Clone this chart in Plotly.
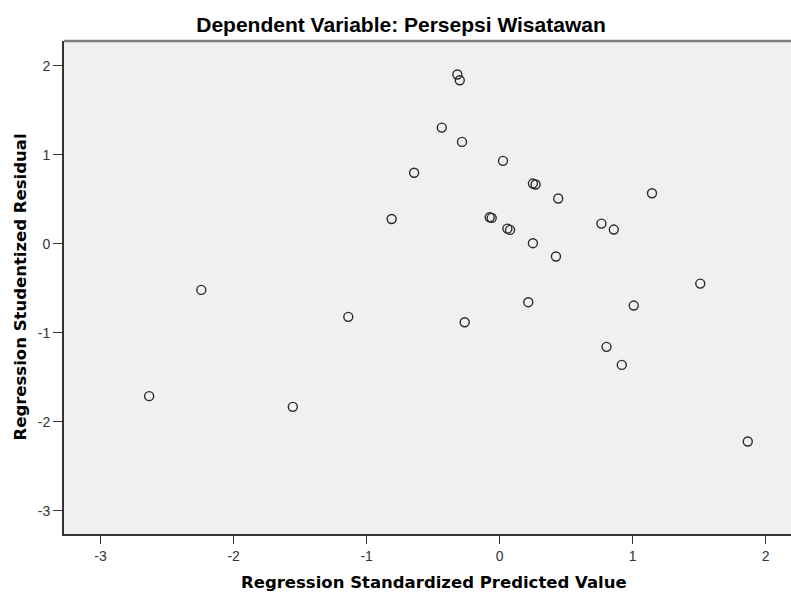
import plotly.graph_objects as go

predicted = [-2.635, -2.243, -1.555, -1.138, -0.812, -0.643, -0.435, -0.318, -0.300, -0.283,
             -0.263, -0.075, -0.060, 0.025, 0.058, 0.078, 0.215, 0.250, 0.270, 0.250,
             0.423, 0.440, 0.765, 0.803, 0.858, 0.918, 1.008, 1.145, 1.508, 1.865]
residual = [-1.711, -0.517, -1.831, -0.820, 0.280, 0.800, 1.307, 1.903, 1.839, 1.146,
            -0.880, 0.300, 0.292, 0.933, 0.172, 0.157, -0.655, 0.678, 0.667, 0.008,
            -0.142, 0.510, 0.228, -1.157, 0.161, -1.360, -0.693, 0.569, -0.446, -2.221]
x_ticks = [-3, -2, -1, 0, 1, 2]
y_ticks = [-3, -2, -1, 0, 1, 2]

FONT = "Liberation Sans, Arial, sans-serif"
TFONT = "DejaVu Sans, sans-serif"

W, H = 791, 592
L, R, T = 64, 0, 41
B = H - 534
PW, PH = W - L - R, H - T - B


def py(screen_y):
    return (T + PH - screen_y) / PH


def px(screen_x):
    return (screen_x - L) / PW


fig = go.Figure()
fig.add_trace(go.Scatter(
    x=predicted, y=residual, mode="markers",
    marker=dict(symbol="circle-open", size=9, color="#2a2a2a", line=dict(width=1.4, color="#2a2a2a")),
    showlegend=False, hoverinfo="x+y",
))

fig.update_layout(
    width=W, height=H,
    margin=dict(l=L, r=R, t=T, b=B, autoexpand=False),
    paper_bgcolor="white", plot_bgcolor="#f0f0f0",
    font=dict(family=FONT, color="#333333"),
    title=dict(text="<b>Dependent Variable: Persepsi Wisatawan</b>",
               x=401 / W, xanchor="center", y=1 - 25 / H, yanchor="middle",
               font=dict(family=FONT, size=21, color="#000000")),
)
axis_common = dict(
    showgrid=False, zeroline=False, showline=True, linecolor="#333333", linewidth=2,
    ticks="outside", tickwidth=1.3, tickcolor="#333333", automargin=False,
    tickfont=dict(family=FONT, size=14, color="#333333"),
)
fig.update_xaxes(range=[-3.275, 2.19], tickvals=x_ticks, ticktext=[str(v) for v in x_ticks],
                 ticklen=8, **axis_common)
fig.update_yaxes(range=[-3.26, 2.28], tickvals=y_ticks, ticktext=[str(v) for v in y_ticks],
                 ticklen=9, **axis_common)

fig.add_annotation(text="<b>Regression Standardized Predicted Value</b>",
                   xref="paper", yref="paper", x=px(433.5), y=py(582),
                   xanchor="center", yanchor="middle", showarrow=False,
                   font=dict(family=TFONT, size=16.5, color="#000000"))
fig.add_annotation(text="<b>Regression Studentized Residual</b>",
                   xref="paper", yref="paper", x=px(20), y=py(287.5),
                   xanchor="center", yanchor="middle", showarrow=False, textangle=-90,
                   font=dict(family=TFONT, size=16.5, color="#000000"))
# top frame line
fig.add_shape(type="line", xref="paper", yref="paper", x0=0, x1=1, y0=1, y1=1,
              line=dict(color="#808080", width=2.5))

fig.write_html(
    "out.html",
    config={"displayModeBar": False},
    post_script="document.body.style.margin='0';document.documentElement.style.overflow='hidden';",
)
